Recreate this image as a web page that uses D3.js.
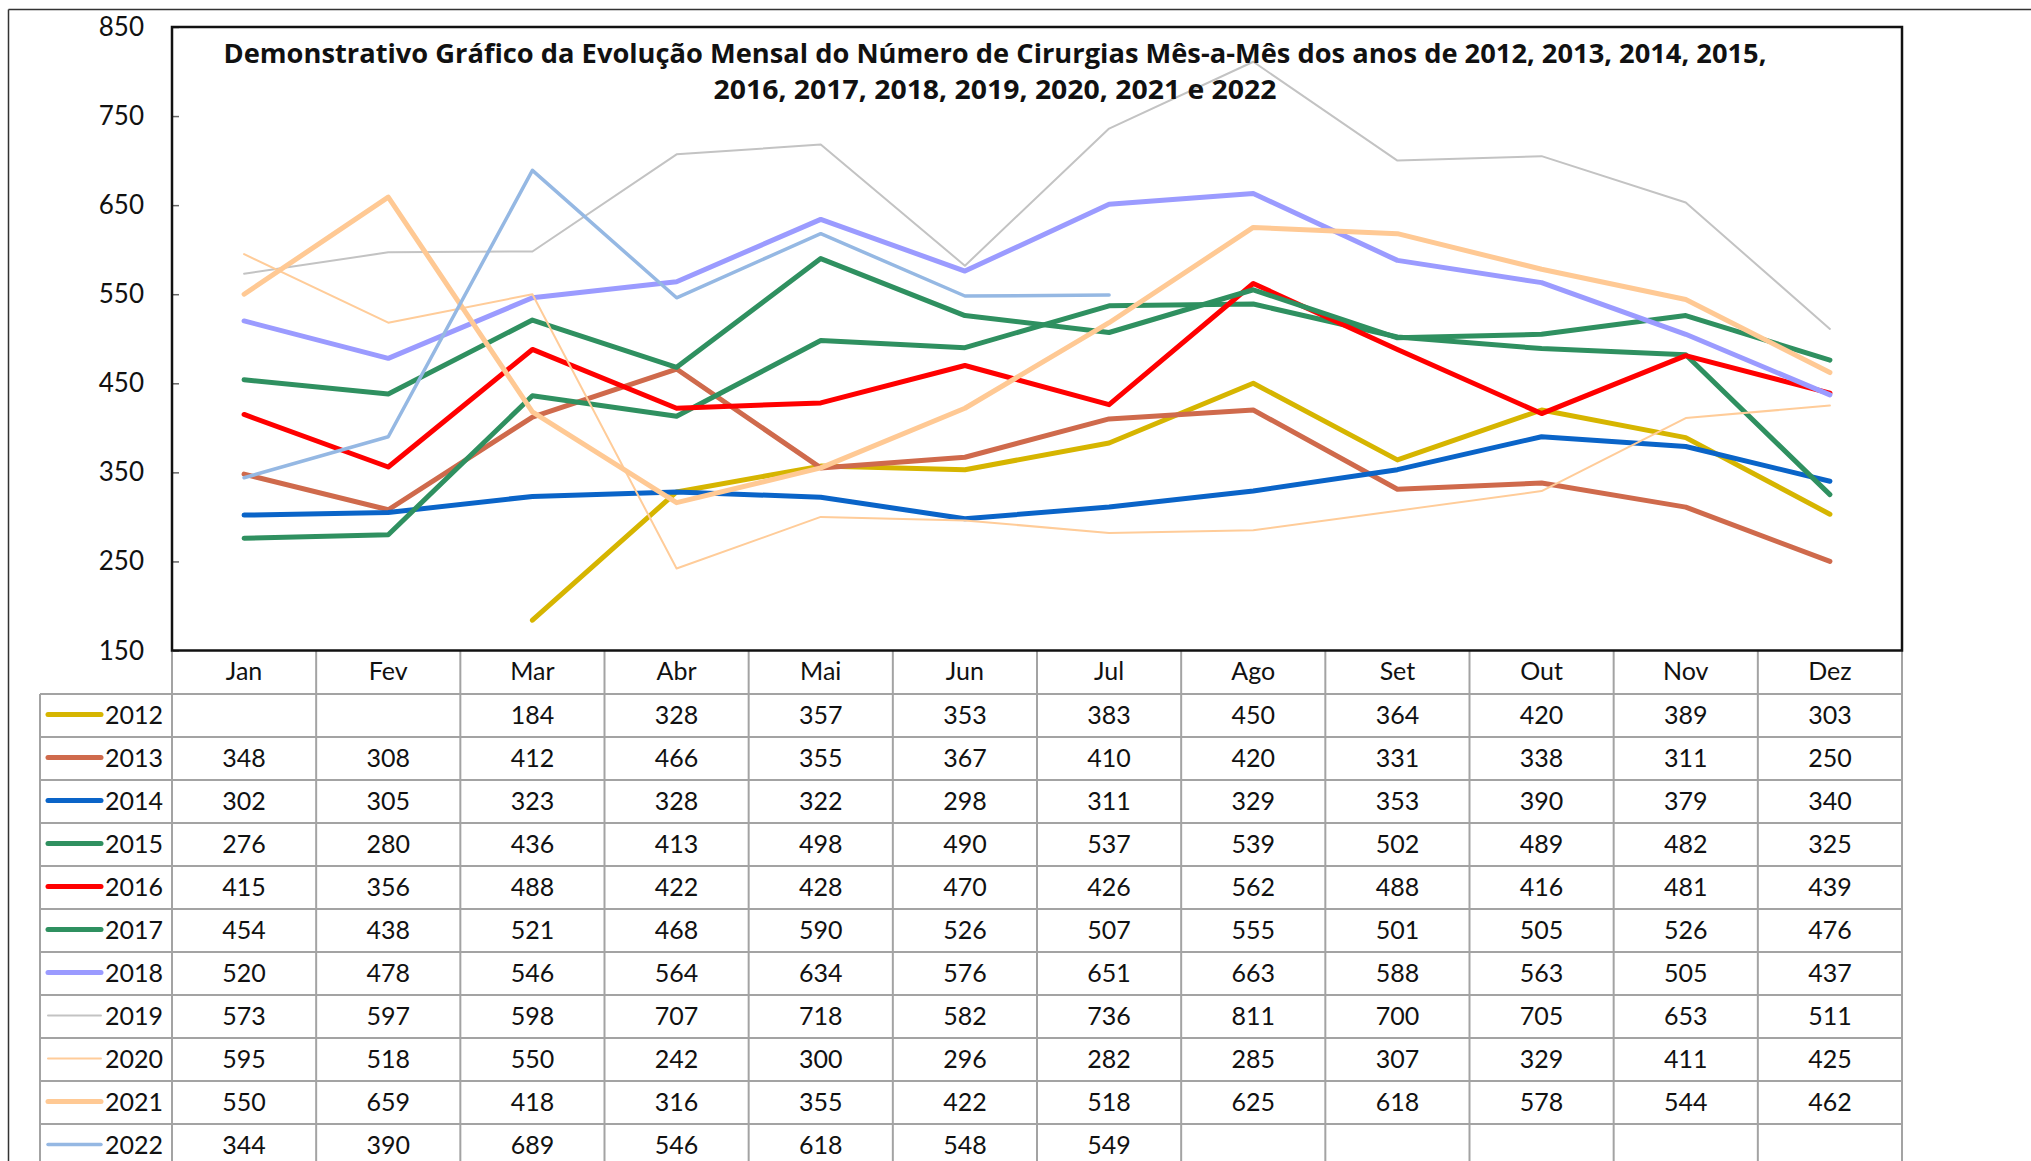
<!DOCTYPE html>
<html>
<head>
<meta charset="utf-8">
<script src="https://cdn.jsdelivr.net/npm/d3@7/dist/d3.min.js"></script>
<style>
  html, body { margin: 0; padding: 0; background: #fff; }
  svg { display: block; }
  text { font-family: Lato, "Open Sans", sans-serif; fill: #111; }
</style>
</head>
<body>
<svg id="chart" width="2031" height="1161"></svg>
<script>
// ---------- data ----------
const months = ["Jan", "Fev", "Mar", "Abr", "Mai", "Jun", "Jul", "Ago", "Set", "Out", "Nov", "Dez"];
const years = ["2012", "2013", "2014", "2015", "2016", "2017", "2018", "2019", "2020", "2021", "2022"];
const v2012 = [null, null, 184, 328, 357, 353, 383, 450, 364, 420, 389, 303];
const v2013 = [348, 308, 412, 466, 355, 367, 410, 420, 331, 338, 311, 250];
const v2014 = [302, 305, 323, 328, 322, 298, 311, 329, 353, 390, 379, 340];
const v2015 = [276, 280, 436, 413, 498, 490, 537, 539, 502, 489, 482, 325];
const v2016 = [415, 356, 488, 422, 428, 470, 426, 562, 488, 416, 481, 439];
const v2017 = [454, 438, 521, 468, 590, 526, 507, 555, 501, 505, 526, 476];
const v2018 = [520, 478, 546, 564, 634, 576, 651, 663, 588, 563, 505, 437];
const v2019 = [573, 597, 598, 707, 718, 582, 736, 811, 700, 705, 653, 511];
const v2020 = [595, 518, 550, 242, 300, 296, 282, 285, 307, 329, 411, 425];
const v2021 = [550, 659, 418, 316, 355, 422, 518, 625, 618, 578, 544, 462];
const v2022 = [344, 390, 689, 546, 618, 548, 549, null, null, null, null, null];
const yTicks = [150, 250, 350, 450, 550, 650, 750, 850];
const titleLines = [
  "Demonstrativo Gráfico da Evolução Mensal do Número de Cirurgias Mês-a-Mês dos anos de  2012, 2013, 2014, 2015,",
  "2016, 2017, 2018, 2019, 2020, 2021 e 2022"
];

const seriesValues = [v2012, v2013, v2014, v2015, v2016, v2017, v2018, v2019, v2020, v2021, v2022];
const seriesColors = ["#d6b500", "#cf6a4c", "#0a64c8", "#2f9060", "#ff0000", "#2f9060", "#9b9bff", "#c3c3c3", "#ffcc99", "#ffc994", "#95b8e3"];
const seriesWidths = [5, 5, 5, 5, 5, 5, 5, 2, 2, 5, 3.5];

// ---------- layout ----------
const plotL = 172, plotR = 1902, plotT = 27, plotB = 650.5;
const tableL = 40, rowH = 43;
const headerB = plotB + rowH + 0.5;

const svg = d3.select("#chart");

// outer frame
svg.append("line").attr("x1", 8.5).attr("x2", 2031).attr("y1", 9.5).attr("y2", 9.5)
  .attr("stroke", "#333").attr("stroke-width", 1.5);
svg.append("line").attr("x1", 8.5).attr("x2", 8.5).attr("y1", 9.5).attr("y2", 1161)
  .attr("stroke", "#333").attr("stroke-width", 1.5);

const x = d3.scaleBand().domain(months).range([plotL, plotR]).padding(0);
const y = d3.scaleLinear().domain([150, 850]).range([plotB, plotT]);

// y axis labels + inward ticks
const yAxis = d3.axisRight(y).tickValues(yTicks).tickSize(7).tickFormat("");
const yg = svg.append("g").attr("transform", `translate(${plotL},0)`).call(yAxis);
yg.select(".domain").remove();
yg.selectAll(".tick line").attr("stroke", "#666").attr("stroke-width", 1.5);

svg.append("g").selectAll("text").data(yTicks).join("text")
  .attr("x", 144).attr("y", d => y(d) - 1)
  .attr("text-anchor", "end").attr("dominant-baseline", "central")
  .style("font-size", "26px").text(d => d);

// ---------- table grid ----------
const grid = svg.append("g").attr("stroke", "#a3a3a3").attr("stroke-width", 2);
const colEdges = months.map(m => x(m)).concat([plotR]);
grid.selectAll("line.hv").data(colEdges).join("line").attr("class", "hv")
  .attr("x1", d => d).attr("x2", d => d).attr("y1", plotB).attr("y2", 1161);
grid.append("line").attr("x1", tableL).attr("x2", tableL).attr("y1", headerB).attr("y2", 1161);
const rowTops = years.map((yr, i) => headerB + i * rowH);
grid.selectAll("line.h").data(rowTops).join("line").attr("class", "h")
  .attr("x1", tableL).attr("x2", plotR).attr("y1", d => d).attr("y2", d => d);

// month header labels
svg.append("g").selectAll("text").data(months).join("text")
  .attr("x", d => x(d) + x.bandwidth() / 2).attr("y", plotB + rowH / 2 - 2)
  .attr("text-anchor", "middle").attr("dominant-baseline", "central")
  .style("font-size", "25px").text(d => d);

// rows: legend key, year, values
years.forEach((yr, i) => {
  const cy = rowTops[i] + rowH / 2 - 2;
  svg.append("line").attr("x1", 48).attr("x2", 101).attr("y1", cy + 1).attr("y2", cy + 1)
    .attr("stroke", seriesColors[i]).attr("stroke-width", seriesWidths[i])
    .attr("stroke-linecap", "round");
  svg.append("text").attr("x", 105).attr("y", cy).attr("dominant-baseline", "central")
    .style("font-size", "25px").text(yr);
  svg.append("g").selectAll("text").data(seriesValues[i].map((v, j) => ({ v, m: months[j] })).filter(d => d.v != null))
    .join("text")
    .attr("x", d => x(d.m) + x.bandwidth() / 2).attr("y", cy)
    .attr("text-anchor", "middle").attr("dominant-baseline", "central")
    .style("font-size", "25px").text(d => d.v);
});

// ---------- lines ----------
const lineGen = d3.line()
  .defined(d => d.v != null)
  .x(d => x(d.m) + x.bandwidth() / 2)
  .y(d => y(d.v));

const lg = svg.append("g");
seriesValues.forEach((vals, i) => {
  lg.append("path")
    .datum(vals.map((v, j) => ({ v, m: months[j] })))
    .attr("d", lineGen)
    .attr("fill", "none")
    .attr("stroke", seriesColors[i])
    .attr("stroke-width", seriesWidths[i])
    .attr("stroke-linejoin", "round")
    .attr("stroke-linecap", "round");
});

// plot border
svg.append("rect").attr("x", plotL).attr("y", plotT).attr("width", plotR - plotL).attr("height", plotB - plotT)
  .attr("fill", "none").attr("stroke", "#111").attr("stroke-width", 2.5);

// ---------- title ----------
const tg = svg.append("g");
tg.append("text").attr("x", 995).attr("y", 63).attr("text-anchor", "middle")
  .attr("textLength", 1543).attr("lengthAdjust", "spacingAndGlyphs")
  .style("font-family", "'Open Sans', Lato, sans-serif").style("font-weight", "bold").style("font-size", "27px")
  .text(titleLines[0]);
tg.append("text").attr("x", 995).attr("y", 99).attr("text-anchor", "middle")
  .attr("textLength", 563).attr("lengthAdjust", "spacingAndGlyphs")
  .style("font-family", "'Open Sans', Lato, sans-serif").style("font-weight", "bold").style("font-size", "27px")
  .text(titleLines[1]);
</script>
</body>
</html>
